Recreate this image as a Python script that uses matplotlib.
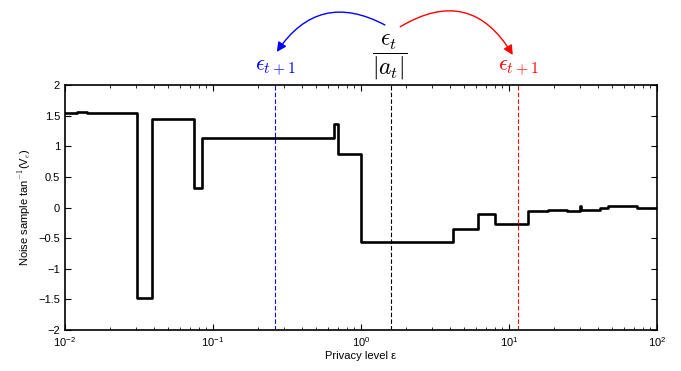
import numpy as np
import matplotlib.pyplot as plt

# step change points (privacy level) and noise sample value after each one
eps = [0.01, 0.012, 0.014, 0.028, 0.0306, 0.0388, 0.0745, 0.0843, 0.657,
       0.70, 1.0, 2.05, 4.19, 6.17, 8.04, 13.4, 18.4, 24.5, 30.2, 30.8,
       41.0, 46.7, 73.0, 100.0]
noise = [1.55, 1.56, 1.54, 1.55, -1.47, 1.45, 0.32, 1.13, 1.37,
         0.87, -0.57, -0.56, -0.35, -0.11, -0.27, -0.05, -0.04, -0.05, 0.02,
         -0.04, -0.01, 0.02, 0.0, 0.0]

eps_t = 1.6
eps_low = 0.262
eps_high = 11.5

plt.rcParams['font.family'] = ['Liberation Sans', 'DejaVu Sans']
plt.rcParams['mathtext.fontset'] = 'cm'

fig = plt.figure(figsize=(6.81, 3.71), dpi=100)
ax = fig.add_axes([0.0954, 0.1105, 0.8694, 0.6604])

ax.plot(eps, noise, drawstyle='steps-post', color='black', lw=1.9)
ax.axvline(eps_low, color='blue', ls='--', lw=0.8, dashes=(4, 2))
ax.axvline(eps_t, color='black', ls='--', lw=0.8, dashes=(4, 2))
ax.axvline(eps_high, color='red', ls='--', lw=0.8, dashes=(4, 2))

ax.set_xscale('log')
ax.set_xlim(1e-2, 1e2)
ax.set_ylim(-2, 2)
ax.set_yticks(np.arange(-2, 2.01, 0.5))
ax.set_yticklabels(['\u22122', '\u22121.5', '\u22121', '\u22120.5', '0', '0.5', '1', '1.5', '2'])
ax.tick_params(which='both', direction='in', top=True, right=True, labelsize=8)
ax.tick_params(which='major', length=4)
ax.tick_params(which='minor', length=2)
for s in ax.spines.values():
    s.set_linewidth(1.2)

ax.set_xlabel('Privacy level \u03b5', fontsize=8, labelpad=2)
ax.set_ylabel('Noise sample tan$^{-1}$(V$_{\\epsilon}$)', fontsize=8)

# annotations above the axes
ax.text(eps_low, 2.1, r'$\epsilon_{t+1}$', color='blue', fontsize=16,
        ha='center', va='bottom', clip_on=False)
ax.text(eps_high, 2.1, r'$\epsilon_{t+1}$', color='red', fontsize=16,
        ha='center', va='bottom', clip_on=False)
ax.text(eps_t * 0.97, 2.05, r'$\dfrac{\epsilon_t}{|a_t|}$', color='black', fontsize=17,
        ha='center', va='bottom', clip_on=False)

ax.annotate('', xy=(0.27, 2.54), xytext=(1.45, 2.98),
            xycoords='data', textcoords='data', annotation_clip=False,
            arrowprops=dict(arrowstyle='-|>', color='blue', lw=1.0, shrinkA=0, shrinkB=0,
                            connectionstyle='arc3,rad=0.45', mutation_scale=14))
ax.annotate('', xy=(10.6, 2.49), xytext=(1.84, 2.95),
            xycoords='data', textcoords='data', annotation_clip=False,
            arrowprops=dict(arrowstyle='-|>', color='red', lw=1.0, shrinkA=0, shrinkB=0,
                            connectionstyle='arc3,rad=-0.5', mutation_scale=14))

fig.savefig('out.png', dpi=100)
